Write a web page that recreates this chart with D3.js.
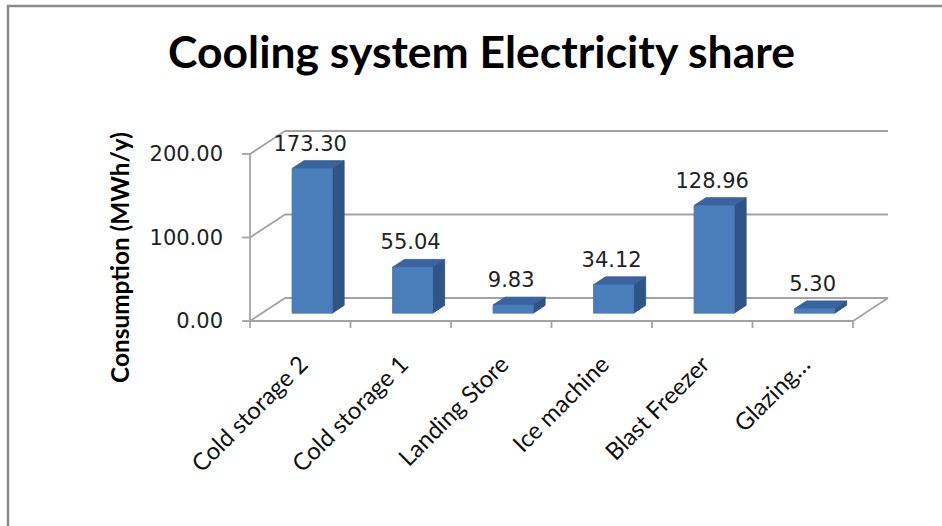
<!DOCTYPE html>
<html>
<head>
<meta charset="utf-8">
<script src="https://cdn.jsdelivr.net/npm/d3@7"></script>
<style>
  html, body { margin: 0; padding: 0; background: #fff; }
  svg { display: block; }
</style>
</head>
<body>
<svg id="chart" width="942" height="526"></svg>
<script>
// Chart data
const categories = ["Cold storage 2", "Cold storage 1", "Landing Store", "Ice machine", "Blast Freezer", "Glazing…"];
const consumption = [173.30, 55.04, 9.83, 34.12, 128.96, 5.30];
const yTicks = [0, 100, 200];
const titleText = "Cooling system Electricity share";
const yTitleText = "Consumption (MWh/y)";

const svg = d3.select("#chart");
const W = 942, H = 526;

// Outer chart frame (only left and top edges fall inside the view)
svg.append("path")
  .attr("d", `M8,${H + 5} L8,6 L${W + 5},6`)
  .attr("fill", "none").attr("stroke", "#8a8a8a").attr("stroke-width", 2.5);

// Front plane of the 3D box
const x = d3.scaleBand().domain(categories).range([250, 853]).paddingInner(0).paddingOuter(0);
const y = d3.scaleLinear().domain([0, 200]).range([321, 154]);

// Depth vector from the front plane to the back wall
const DX = 35, DY = -23;
const depthFront = 0.34, depthBack = 0.68;
const barRatio = 0.4;

const gridColor = "#a3a3a3";
const gW = 1.8;
const grid = svg.append("g").attr("fill", "none").attr("stroke", gridColor).attr("stroke-width", gW);

// Back wall gridlines and side-wall diagonals
yTicks.forEach(t => {
  grid.append("line")
    .attr("x1", x.range()[0] + DX).attr("y1", y(t) + DY)
    .attr("x2", x.range()[1] + DX).attr("y2", y(t) + DY);
  grid.append("line")
    .attr("x1", x.range()[0]).attr("y1", y(t))
    .attr("x2", x.range()[0] + DX).attr("y2", y(t) + DY);
});
// Floor front edge and right edge
grid.append("line")
  .attr("x1", x.range()[0]).attr("y1", y(0))
  .attr("x2", x.range()[1]).attr("y2", y(0));
grid.append("line")
  .attr("x1", x.range()[1]).attr("y1", y(0))
  .attr("x2", x.range()[1] + DX).attr("y2", y(0) + DY);

// Value axis line with outward ticks
grid.append("line")
  .attr("x1", x.range()[0]).attr("y1", y(0))
  .attr("x2", x.range()[0]).attr("y2", y(200));
yTicks.forEach(t => {
  grid.append("line")
    .attr("x1", x.range()[0] - 8).attr("y1", y(t))
    .attr("x2", x.range()[0]).attr("y2", y(t));
});
// Category boundary ticks
const boundaries = categories.map(c => x(c)).concat([x.range()[1]]);
boundaries.forEach(bx => {
  grid.append("line")
    .attr("x1", bx).attr("y1", y(0))
    .attr("x2", bx).attr("y2", y(0) + 7);
});

// Value tick labels
svg.append("g").selectAll("text").data(yTicks).join("text")
  .attr("x", 223).attr("y", d => y(d))
  .attr("text-anchor", "end").attr("dominant-baseline", "central")
  .attr("font-family", "DejaVu Sans").attr("font-size", 21).attr("fill", "#222")
  .text(d => d3.format(".2f")(d));

// 3D bars
const bw = x.bandwidth() * barRatio;
const fdx = DX * depthFront, fdy = DY * depthFront;
const ddx = DX * (depthBack - depthFront), ddy = DY * (depthBack - depthFront);

const bars = svg.append("g");
categories.forEach((c, i) => {
  const v = consumption[i];
  const x0 = x(c) + x.bandwidth() / 2 - bw / 2 + fdx;
  const x1 = x0 + bw;
  const yb = y(0) + fdy;
  const yt = y(v) + fdy;
  const g = bars.append("g").attr("stroke-linejoin", "round");
  // right side face
  g.append("path")
    .attr("d", `M${x1},${yb} L${x1 + ddx},${yb + ddy} L${x1 + ddx},${yt + ddy} L${x1},${yt} Z`)
    .attr("fill", "#2f5586").attr("stroke", "#2a4c78").attr("stroke-width", 0.8);
  // top face
  g.append("path")
    .attr("d", `M${x0},${yt} L${x1},${yt} L${x1 + ddx},${yt + ddy} L${x0 + ddx},${yt + ddy} Z`)
    .attr("fill", "#3a64a0").attr("stroke", "#335a90").attr("stroke-width", 0.8);
  // front face
  g.append("rect")
    .attr("x", x0).attr("y", yt).attr("width", bw).attr("height", yb - yt)
    .attr("fill", "#4a7ebb").attr("stroke", "#4575b0").attr("stroke-width", 0.8);
  // value label
  svg.append("text")
    .attr("x", (x0 + x1) / 2 - 2).attr("y", yt + ddy - 10)
    .attr("text-anchor", "middle")
    .attr("font-family", "DejaVu Sans").attr("font-size", 21).attr("fill", "#222")
    .text(d3.format(".2f")(v));
});

// Fit a text element's font size to a target rendered length
function fitSize(sel, target) {
  const s0 = +sel.attr("font-size");
  const len = sel.node().getComputedTextLength();
  sel.attr("font-size", s0 * target / len);
}

// Category labels, rotated
const catG = svg.append("g");
const catLabels = catG.selectAll("text").data(categories).join("text")
  .attr("transform", d => `translate(${x(d) + x.bandwidth() / 2 + 9},366) rotate(-45)`)
  .attr("text-anchor", "end")
  .attr("font-family", "Lato").attr("font-size", 20).attr("fill", "#111")
  .text(d => d);
// scale all category labels by the first label's fit
{
  const first = catLabels.filter((d, i) => i === 0);
  const len = first.node().getComputedTextLength();
  catLabels.attr("font-size", 20 * 152 / len);
}

// Title
const title = svg.append("text")
  .attr("x", 481.5).attr("y", 68)
  .attr("text-anchor", "middle")
  .attr("font-family", "Lato").attr("font-weight", "bold").attr("font-size", 38).attr("fill", "#000")
  .text(titleText);
fitSize(title, 627);

// Value axis title
const yTitle = svg.append("text")
  .attr("transform", "translate(129,257.5) rotate(-90)")
  .attr("text-anchor", "middle")
  .attr("font-family", "Lato").attr("font-weight", "bold").attr("font-size", 21).attr("fill", "#000")
  .text(yTitleText);
fitSize(yTitle, 251);
</script>
</body>
</html>
